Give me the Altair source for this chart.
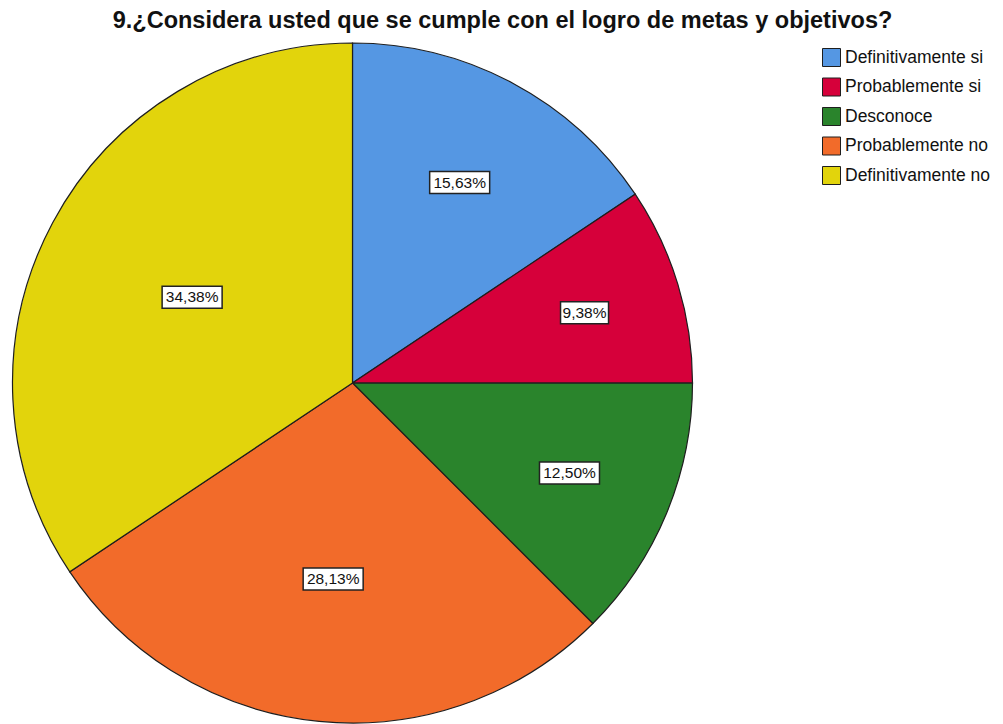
import altair as alt
import pandas as pd

categories = ["Definitivamente si", "Probablemente si", "Desconoce",
              "Probablemente no", "Definitivamente no"]
percentages = [15.63, 9.38, 12.50, 28.13, 34.38]
colors = ["#5597E3", "#D6003A", "#2A842C", "#F26B2A", "#E2D40C"]
title_text = "9.¿Considera usted que se cumple con el logro de metas y objetivos?"

R = 340
FONT = "Liberation Sans"

df = pd.DataFrame({
    "categoria": categories,
    "pct": percentages,
    "orden": list(range(len(categories))),
})

base = alt.Chart(df)

pie = base.mark_arc(outerRadius=R, stroke="#1e1e1e", strokeWidth=1.2).encode(
    theta=alt.Theta("pct:Q", stack=True),
    color=alt.Color(
        "categoria:N",
        sort=categories,
        scale=alt.Scale(domain=categories, range=colors),
        legend=alt.Legend(
            title=None, orient="none", legendX=809.5, legendY=5,
            labelFont=FONT, labelFontSize=17.5, labelColor="#111",
            labelLimit=400, labelOffset=4,
            symbolType="square", symbolSize=324,
            symbolStrokeColor="#1e1e1e", symbolStrokeWidth=1,
            rowPadding=6.5, padding=0,
        ),
    ),
    order=alt.Order("orden:Q"),
)

# label anchor: middle angle of each slice, distance shrinking with slice width
labelled = base.transform_window(
    cum="sum(pct)", sort=[alt.SortField("orden")], frame=[None, 0]
).transform_joinaggregate(
    total="sum(pct)"
).transform_calculate(
    half="PI*datum.pct/datum.total",
    mid="2*PI*(datum.cum - datum.pct/2)/datum.total",
    d=f"{R}*(0.78 - 0.227*datum.half)",
    lx="datum.d*sin(datum.mid)",
    ly="datum.d*cos(datum.mid)",
    label="replace(format(datum.pct, '.2f'), '.', ',') + '%'",
    hw="6*length(datum.label) - 6",
    bx1="datum.lx - datum.hw",
    bx2="datum.lx + datum.hw",
    by1="datum.ly - 11",
    by2="datum.ly + 11",
)

xs = alt.Scale(domain=[-R, R], nice=False, zero=False)
ys = alt.Scale(domain=[-R, R], nice=False, zero=False)

boxes = labelled.mark_rect(fill="white", stroke="#222", strokeWidth=1.5).encode(
    x=alt.X("bx1:Q", scale=xs, axis=None),
    x2="bx2:Q",
    y=alt.Y("by1:Q", scale=ys, axis=None),
    y2="by2:Q",
)

texts = labelled.mark_text(font=FONT, fontSize=15.5, color="#111",
                           align="center", baseline="middle").encode(
    x=alt.X("lx:Q", scale=xs, axis=None),
    y=alt.Y("ly:Q", scale=ys, axis=None),
    text="label:N",
)

title_mark = alt.Chart(pd.DataFrame({"t": [title_text]})).mark_text(
    font=FONT, fontSize=23.5, fontWeight="bold", color="#111",
    align="center", baseline="alphabetic",
).encode(
    text="t:N",
    x=alt.value(490),
    y=alt.value(-15),
)

chart = alt.layer(pie, boxes, texts, title_mark).properties(
    width=2 * R,
    height=2 * R,
    autosize=alt.AutoSizeParams(type="none"),
    padding={"left": 4.5, "top": 35, "right": 302.5, "bottom": 1},
).configure(
    background="white",
    view=alt.ViewConfig(stroke=None),
)

chart.save("out.html", embed_options={"renderer": "svg", "actions": False})
